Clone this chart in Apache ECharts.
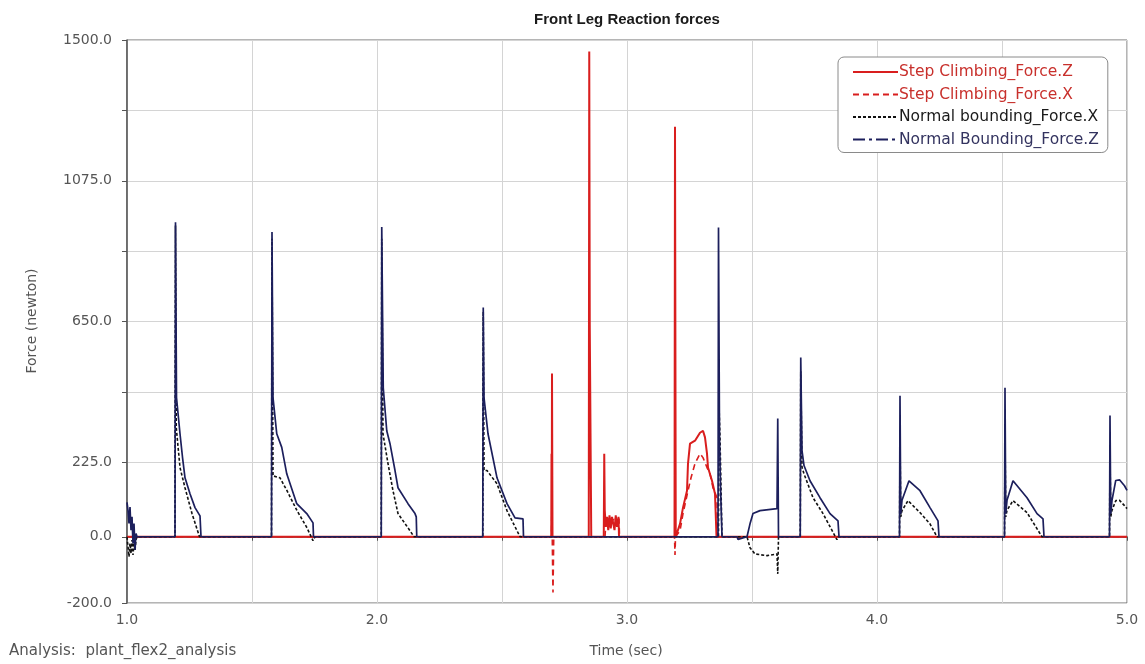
<!DOCTYPE html>
<html>
<head>
<meta charset="utf-8">
<script src="https://cdn.jsdelivr.net/npm/echarts@6/dist/echarts.min.js"></script>
<style>
html,body{margin:0;padding:0;background:#fff;}
#chart{width:1145px;height:664px;}
</style>
</head>
<body>
<div id="chart"></div>
<script>
// ---- Data (time in sec, force in newton) ----
const seriesNames = ['Step Climbing_Force.Z', 'Step Climbing_Force.X', 'Normal bounding_Force.X', 'Normal Bounding_Force.Z'];
const yLabelValues = [-200, 0, 225, 650, 1075, 1500];
const yTickValues = [-200, 0, 225, 437.5, 650, 862.5, 1075, 1287.5, 1500];
const xLabelValues = [1, 2, 3, 4, 5];

const stepClimbingZ = [
  [1.0, 0], [2.697, 0], [2.698, 251], [2.699, 60], [2.7, 493], [2.702, 0],
  [2.847, 0], [2.849, 1465], [2.851, 640], [2.855, 640], [2.857, 0],
  [2.907, 0], [2.909, 251], [2.911, 80], [2.915, 30], [2.92, 60], [2.925, 20], [2.93, 65],
  [2.935, 25], [2.94, 60], [2.95, 20], [2.955, 65], [2.96, 30], [2.966, 60], [2.968, 0],
  [3.19, 0], [3.192, 1238], [3.195, 0],
  [3.199, 0], [3.212, 39], [3.224, 88], [3.24, 139], [3.244, 221], [3.252, 281], [3.272, 290],
  [3.292, 314], [3.304, 320], [3.312, 300], [3.32, 251], [3.324, 209], [3.34, 169], [3.352, 130],
  [3.358, 0], [5.0, 0]
];

const stepClimbingX = [
  [1.0, 0], [2.698, 0], [2.7, 110], [2.701, 0], [2.702, -60], [2.703, -120], [2.704, -168],
  [2.706, -168], [2.707, 0],
  [2.912, 0], [2.916, 50], [2.924, 40], [2.93, 60], [2.94, 45], [2.95, 60], [2.96, 40],
  [2.968, 55], [2.97, 0],
  [3.19, 0], [3.192, -55], [3.194, 0],
  [3.2, 0], [3.212, 18], [3.224, 70], [3.244, 139], [3.256, 178], [3.272, 221], [3.292, 251],
  [3.304, 239], [3.32, 209], [3.332, 190], [3.344, 148], [3.36, 118], [3.362, 0], [5.0, 0]
];

const boundingX = [
  [1.0, 0], [1.004, -30], [1.008, -60], [1.012, -20], [1.016, -50], [1.02, -10], [1.024, -55],
  [1.028, -20], [1.032, -40], [1.036, -10], [1.04, 0],
  [1.192, 0], [1.194, 940], [1.197, 330], [1.212, 209], [1.232, 148], [1.26, 70], [1.29, 0],
  [1.578, 0], [1.58, 900], [1.584, 184], [1.612, 178], [1.64, 139], [1.68, 79], [1.72, 27],
  [1.744, -12], [1.752, 0],
  [2.017, 0], [2.019, 900], [2.024, 311], [2.044, 221], [2.064, 139], [2.084, 70], [2.124, 27], [2.148, 0],
  [2.423, 0], [2.425, 680], [2.428, 200], [2.44, 200], [2.48, 160], [2.52, 79], [2.572, 0],
  [3.366, 0], [3.368, 400], [3.372, 300], [3.376, 150], [3.38, 0],
  [3.48, 0], [3.492, -33], [3.512, -52], [3.56, -57], [3.6, -52], [3.603, -112], [3.606, 0],
  [3.693, 0], [3.695, 500], [3.7, 210], [3.708, 190], [3.744, 118], [3.784, 70], [3.84, -9], [3.845, 0],
  [4.09, 0], [4.092, 300], [4.095, 60], [4.1, 79], [4.124, 109], [4.172, 73], [4.212, 39], [4.24, 0],
  [4.51, 0], [4.512, 300], [4.515, 60], [4.52, 80], [4.544, 109], [4.6, 73], [4.66, 0],
  [4.93, 0], [4.932, 250], [4.935, 60], [4.94, 80], [4.955, 109], [4.97, 110], [4.99, 94], [5.0, 85]
];

const boundingZ = [
  [1.0, 104], [1.004, 80], [1.008, 40], [1.012, 90], [1.016, 20], [1.02, 60], [1.024, -20],
  [1.028, 40], [1.032, -40], [1.036, 10], [1.04, 0],
  [1.192, 0], [1.194, 950], [1.198, 420], [1.212, 311], [1.222, 240], [1.232, 178], [1.252, 130],
  [1.272, 88], [1.292, 63], [1.296, 0],
  [1.578, 0], [1.58, 920], [1.584, 420], [1.599, 311], [1.619, 270], [1.639, 190], [1.679, 100],
  [1.719, 70], [1.744, 42], [1.746, 0],
  [2.017, 0], [2.019, 935], [2.025, 450], [2.039, 320], [2.052, 281], [2.072, 200], [2.084, 148],
  [2.124, 100], [2.152, 70], [2.157, 60], [2.159, 0],
  [2.423, 0], [2.425, 692], [2.428, 420], [2.444, 311], [2.48, 178], [2.52, 100], [2.552, 57],
  [2.584, 54], [2.586, 0],
  [3.364, 0], [3.366, 934], [3.37, 300], [3.374, 150], [3.38, 0],
  [3.44, 0], [3.444, -8], [3.48, 0], [3.492, 39], [3.504, 70], [3.532, 79], [3.6, 85],
  [3.603, 357], [3.606, 0],
  [3.693, 0], [3.695, 541], [3.7, 260], [3.708, 215], [3.732, 169], [3.772, 118], [3.812, 70],
  [3.844, 48], [3.848, 0],
  [4.09, 0], [4.092, 426], [4.095, 70], [4.1, 110], [4.128, 169], [4.172, 139], [4.212, 88],
  [4.244, 48], [4.248, 0],
  [4.51, 0], [4.512, 450], [4.515, 70], [4.52, 110], [4.544, 169], [4.6, 118], [4.64, 70],
  [4.664, 54], [4.668, 0],
  [4.93, 0], [4.932, 366], [4.935, 70], [4.94, 110], [4.955, 170], [4.97, 172], [4.99, 154], [5.0, 140]
];

// ---- Chart ----
const RED = '#d91e1e';
const RED_TXT = '#c8302c';
const NAVY = '#1c1f5c';
const BLACK = '#111111';
const FONT = '"DejaVu Sans", Verdana, sans-serif';
const TFONT = '"Liberation Sans", Arial, sans-serif';

const chart = echarts.init(document.getElementById('chart'), null, {renderer: 'canvas'});
chart.setOption({
  animation: false,
  backgroundColor: '#ffffff',
  grid: {left: 127, right: 18, top: 40, bottom: 61, show: true, borderColor: '#6a6a6a', borderWidth: 1},
  xAxis: {
    type: 'value', min: 1, max: 5, interval: 0.5,
    axisLine: {show: true, lineStyle: {color: '#555', width: 1.5}},
    axisTick: {show: true, length: 4, lineStyle: {color: '#555'}},
    axisLabel: {customValues: xLabelValues, formatter: v => v.toFixed(1), color: '#555', fontSize: 14, fontFamily: FONT, margin: 10},
    splitLine: {show: true, lineStyle: {color: '#d4d4d4', width: 1}}
  },
  yAxis: {
    type: 'value', min: -200, max: 1500,
    axisLine: {show: true, onZero: false, lineStyle: {color: '#555', width: 1.5}},
    axisTick: {show: true, customValues: yTickValues, length: 5, lineStyle: {color: '#555'}},
    axisLabel: {customValues: yLabelValues, formatter: v => v.toFixed(1), color: '#555', fontSize: 14, fontFamily: FONT, margin: 15},
    splitLine: {show: true, lineStyle: {color: '#d4d4d4', width: 1}}
  },
  legend: {
    orient: 'vertical', left: 838, top: 57,
    padding: [7, 9, 5, 14], itemGap: 6.5, itemWidth: 45, itemHeight: 16,
    backgroundColor: '#fff', borderColor: '#8a8a8a', borderWidth: 1, borderRadius: 6,
    itemStyle: {opacity: 0},
    textStyle: {fontSize: 15.5, fontFamily: FONT, padding: [0, 0, 0, -4]},
    data: [
      {name: seriesNames[0], textStyle: {color: RED_TXT}},
      {name: seriesNames[1], textStyle: {color: RED_TXT}},
      {name: seriesNames[2], textStyle: {color: '#1a1a1a'}},
      {name: seriesNames[3], textStyle: {color: '#33335f'}, lineStyle: {type: [12, 4, 3, 4]}}
    ]
  },
  series: [
    {name: seriesNames[0], type: 'line', data: stepClimbingZ, showSymbol: false, symbol: 'none',
     lineStyle: {color: RED, width: 2}, itemStyle: {color: RED}},
    {name: seriesNames[1], type: 'line', data: stepClimbingX, showSymbol: false, symbol: 'none',
     lineStyle: {color: RED, width: 1.6, type: [6, 4]}, itemStyle: {color: RED}},
    {name: seriesNames[2], type: 'line', data: boundingX, showSymbol: false, symbol: 'none',
     lineStyle: {color: BLACK, width: 1.6, type: [3, 2]}, itemStyle: {color: BLACK}},
    {name: seriesNames[3], type: 'line', data: boundingZ, showSymbol: false, symbol: 'none',
     lineStyle: {color: NAVY, width: 1.7}, itemStyle: {color: NAVY}}
  ],
  graphic: [
    {type: 'text', x: 627, y: 20, style: {text: 'Front Leg Reaction forces', font: 'bold 15px ' + TFONT, fill: '#1a1a1a', align: 'center', verticalAlign: 'middle'}},
    {type: 'text', x: 32, y: 321, rotation: Math.PI / 2, style: {text: 'Force (newton)', font: '14px ' + FONT, fill: '#555', align: 'center', verticalAlign: 'middle'}},
    {type: 'text', x: 626, y: 651, style: {text: 'Time (sec)', font: '14px ' + FONT, fill: '#555', align: 'center', verticalAlign: 'middle'}},
    {type: 'text', x: 9, y: 651, style: {text: 'Analysis:  plant_flex2_analysis', font: '15px ' + FONT, fill: '#555', align: 'left', verticalAlign: 'middle'}}
  ]
});
</script>
</body>
</html>
